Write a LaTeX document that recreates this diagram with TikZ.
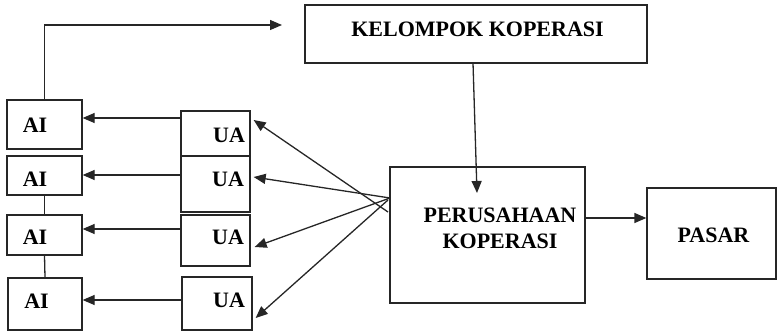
\documentclass[tikz,border=0pt]{standalone}
\usepackage{fontspec}
\setmainfont{Liberation Serif}
\usetikzlibrary{arrows.meta}
\begin{document}
\begin{tikzpicture}[x=1pt,y=-1pt,
  box/.style={draw=black!85,line width=1.3pt,rectangle,inner sep=0pt},
  lbl/.style={inner sep=0pt,font=\fontsize{22}{26}\selectfont\bfseries},
  arr/.style={draw=black!85,line width=1.3pt,-{Triangle[length=12pt,width=10pt]}},
  ln/.style={draw=black!85,line width=1.3pt}]
\useasboundingbox (0,0) rectangle (778,331);
% boxes
\node[box,minimum width=75,minimum height=49] (ai1) at (44.5,124.5) {};
\node[box,minimum width=75,minimum height=39] (ai2) at (44.5,175.5) {};
\node[box,minimum width=75,minimum height=40] (ai3) at (44.5,235) {};
\node[box,minimum width=74,minimum height=52] (ai4) at (45,304) {};
\node[box,minimum width=69,minimum height=45] (ua1) at (215.5,133.5) {};
\node[box,minimum width=69,minimum height=56] (ua2) at (215.5,184) {};
\node[box,minimum width=69,minimum height=51] (ua3) at (215.5,240.5) {};
\node[box,minimum width=70,minimum height=53] (ua4) at (217,303.5) {};
\node[box,minimum width=342,minimum height=58] (kel) at (476,34) {};
\node[box,minimum width=195,minimum height=136] (per) at (487.5,235) {};
\node[box,minimum width=129,minimum height=91] (pasar) at (711.5,233.5) {};
% labels
\node[lbl] (ai1t) at (35,125) {AI};
\node[lbl] (ai2t) at (35,179) {AI};
\node[lbl] (ai3t) at (35,237) {AI};
\node[lbl] (ai4t) at (36.5,301) {AI};
\node[lbl] (ua1t) at (229,135) {UA};
\node[lbl] (ua2t) at (228,179.5) {UA};
\node[lbl] (ua3t) at (228,237) {UA};
\node[lbl] (ua4t) at (229,300) {UA};
\node[lbl] (kelt) at (477.5,29) {KELOMPOK KOPERASI};
\node[lbl,align=center] (pert) at (500,228) {PERUSAHAAN\\KOPERASI};
\node[lbl] (pasart) at (713.5,235) {PASAR};
% helper coordinates
\coordinate (r1) at (0,118);
\coordinate (r2) at (0,175);
\coordinate (r3) at (0,229);
\coordinate (r4) at (0,300);
\coordinate (topend) at (282,25);
\coordinate (kdown) at (473,63);
\coordinate (pend) at (477,193);
\coordinate (pr) at (0,218);
\coordinate (o1) at (388,212);
\coordinate (o2) at (390,198);
\coordinate (o4) at (388,200);
\coordinate (e1) at (0,120);
\coordinate (e2) at (0,177);
\coordinate (e3) at (0,247);
\coordinate (e4) at (0,318);
% connectors
\draw[arr] (ai1.north) |- (topend);
\draw[arr] (ua1.west |- r1) -- (ai1.east |- r1);
\draw[arr] (ua2.west |- r2) -- (ai2.east |- r2);
\draw[arr] (ua3.west |- r3) -- (ai3.east |- r3);
\draw[arr] (ua4.west |- r4) -- (ai4.east |- r4);
\draw[ln] (ai2.south) -- (ai3.north);
\draw[ln] (ai3.south) -- (ai4.north);
\draw[arr] (kdown) -- (pend);
\draw[arr] (per.east |- pr) -- (pasar.west |- pr);
\draw[arr] (o1) -- ([xshift=3pt]ua1.east |- e1);
\draw[arr] (o2) -- ([xshift=3pt]ua2.east |- e2);
\draw[arr] (o2) -- ([xshift=4pt]ua3.east |- e3);
\draw[arr] (o4) -- ([xshift=3pt]ua4.east |- e4);
\end{tikzpicture}
\end{document}
